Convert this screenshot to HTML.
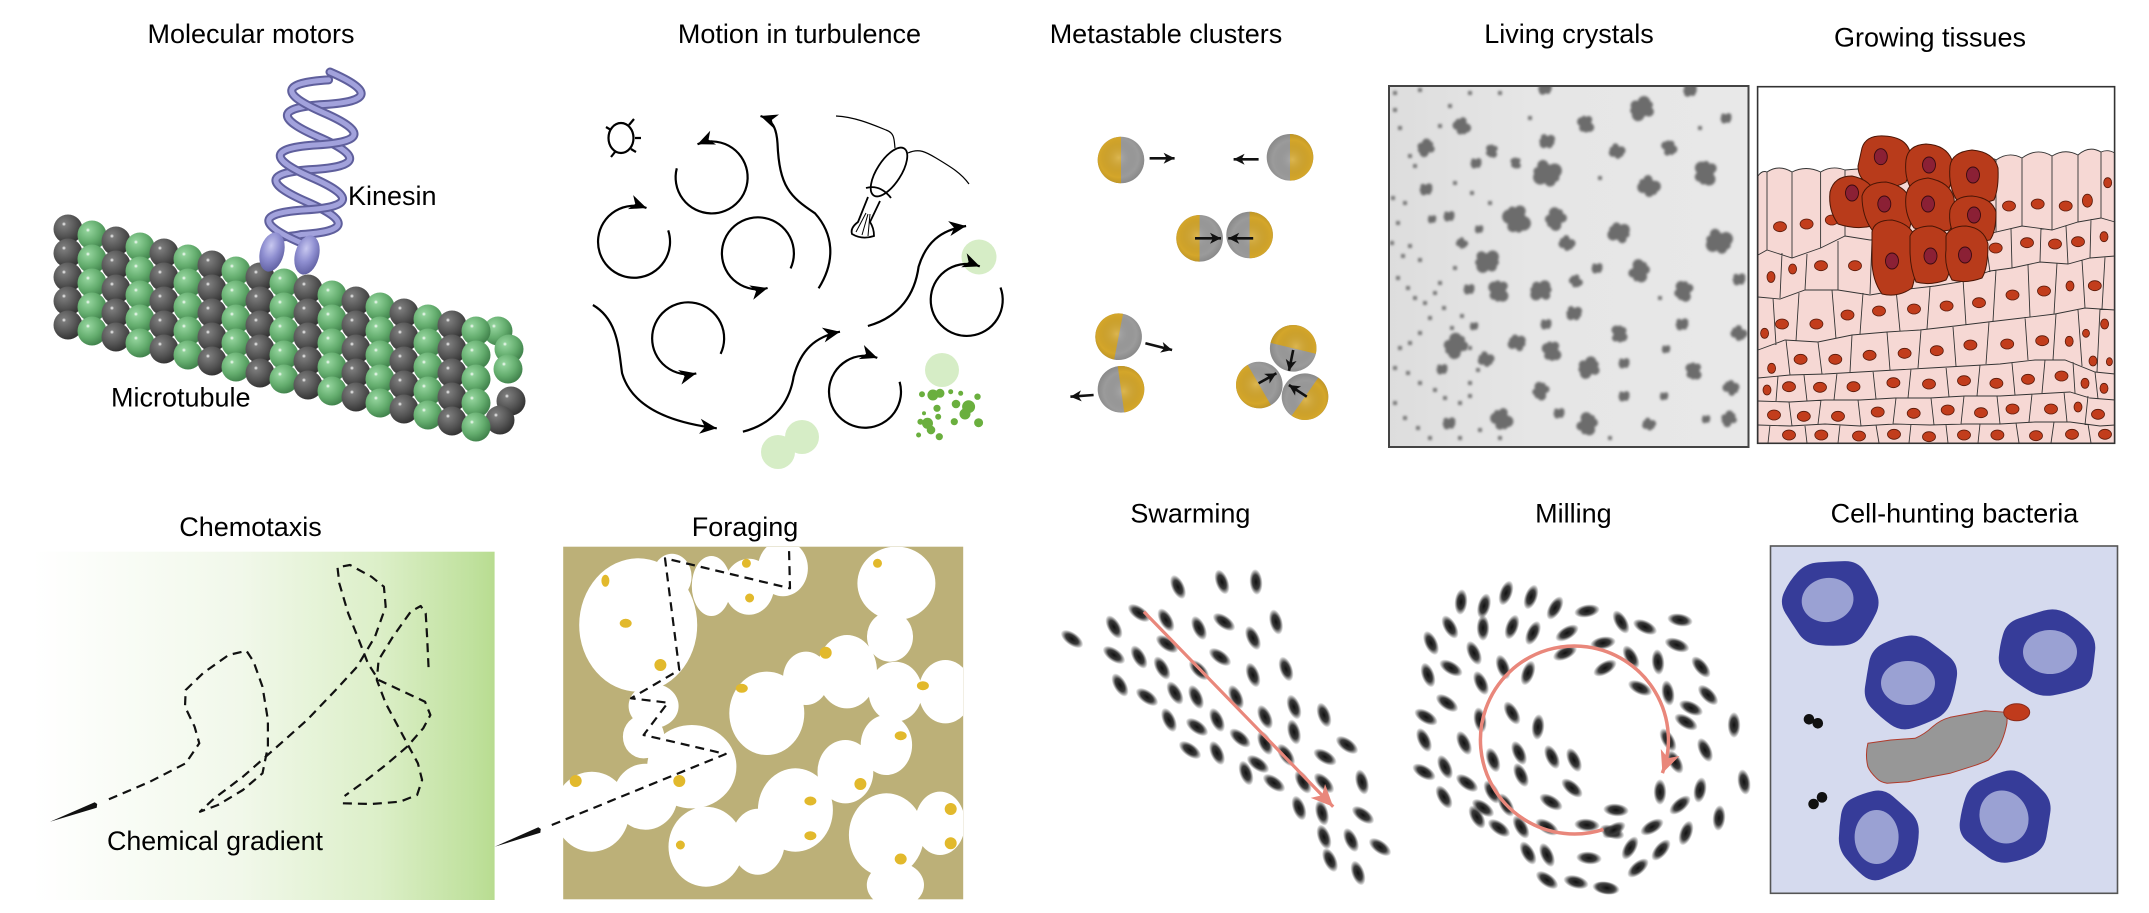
<!DOCTYPE html>
<html><head><meta charset="utf-8">
<style>
html,body{margin:0;padding:0;background:#fff;width:2149px;height:913px;overflow:hidden}
svg{display:block}
text{font-family:"Liberation Sans",Arial,sans-serif;font-size:27px;fill:#000}
</style></head>
<body>
<svg width="2149" height="913" viewBox="0 0 2149 913" xmlns="http://www.w3.org/2000/svg">
<defs>
<marker id="ah" markerWidth="20" markerHeight="20" viewBox="-18 -10 20 20" refX="0" refY="0" orient="auto" markerUnits="userSpaceOnUse"><path d="M0,0 L-17,-7.5 L-12,0 L-17,7.5 Z" fill="#000"/></marker>
<marker id="ahs" markerWidth="14" markerHeight="14" viewBox="-12 -7 14 14" refX="0" refY="0" orient="auto" markerUnits="userSpaceOnUse"><path d="M0,0 L-11,-5.5 L-8,0 L-11,5.5 Z" fill="#111"/></marker>
<marker id="ahp" markerWidth="26" markerHeight="24" viewBox="-24 -12 26 24" refX="0" refY="0" orient="auto" markerUnits="userSpaceOnUse"><path d="M0,0 L-22,-10 L-16,0 L-22,10 Z" fill="#e9877b"/></marker>
<radialGradient id="sg" cx="0.36" cy="0.33" r="0.75"><stop offset="0" stop-color="#fff"/><stop offset="0.1" stop-color="#7a7a7a"/><stop offset="0.55" stop-color="#555"/><stop offset="1" stop-color="#2c2c2c"/></radialGradient>
<radialGradient id="sgn" cx="0.36" cy="0.33" r="0.75"><stop offset="0" stop-color="#fff"/><stop offset="0.1" stop-color="#8fd098"/><stop offset="0.55" stop-color="#64ad6e"/><stop offset="1" stop-color="#3a7a45"/></radialGradient>
<radialGradient id="kf" cx="0.4" cy="0.35" r="0.7"><stop offset="0" stop-color="#c8c8f0"/><stop offset="0.5" stop-color="#8e8ed0"/><stop offset="1" stop-color="#5e5ea0"/></radialGradient>
<radialGradient id="jo" cx="0.45" cy="0.45" r="0.6"><stop offset="0" stop-color="#fff" stop-opacity="0.18"/><stop offset="0.7" stop-color="#000" stop-opacity="0"/><stop offset="1" stop-color="#000" stop-opacity="0.14"/></radialGradient>
<radialGradient id="eg"><stop offset="0" stop-color="#111"/><stop offset="0.55" stop-color="#3a3a3a"/><stop offset="1" stop-color="#3a3a3a" stop-opacity="0"/></radialGradient>
<linearGradient id="chem" x1="0" y1="0" x2="1" y2="0"><stop offset="0" stop-color="#fff"/><stop offset="0.45" stop-color="#f1f8ea"/><stop offset="0.75" stop-color="#dcefc8"/><stop offset="0.95" stop-color="#c0e19e"/><stop offset="1" stop-color="#b8dc90"/></linearGradient>
<linearGradient id="crys" x1="0" y1="0" x2="1" y2="0"><stop offset="0" stop-color="#dddddd"/><stop offset="0.4" stop-color="#e6e6e6"/><stop offset="1" stop-color="#e8e8e8"/></linearGradient>
<filter id="bl" x="-10%" y="-10%" width="120%" height="120%"><feGaussianBlur stdDeviation="1.4"/></filter>
<clipPath id="fclip"><rect x="563" y="547" width="400" height="353"/></clipPath>
<clipPath id="cclip"><rect x="1389" y="86" width="360" height="361"/></clipPath>
<circle id="sG" r="14.5" fill="url(#sg)"/>
<circle id="sN" r="14.5" fill="url(#sgn)"/>
<g id="colG"><use href="#sG" y="0"/><use href="#sG" y="24"/><use href="#sG" y="48"/><use href="#sG" y="72"/><use href="#sG" y="96"/></g>
<g id="colN"><use href="#sN" y="0"/><use href="#sN" y="24"/><use href="#sN" y="48"/><use href="#sN" y="72"/><use href="#sN" y="96"/></g>
<ellipse id="e" rx="6.5" ry="13" fill="url(#eg)"/>
<g id="cl"><circle r="5.5"/><circle cx="4" cy="-3" r="4.5"/><circle cx="-3" cy="4" r="4.5"/><circle cx="3.5" cy="4" r="3.5"/><circle cx="-4" cy="-3.5" r="3.5"/><circle cx="6" cy="1" r="2.5"/><circle cx="-6" cy="1" r="2.5"/></g>
<path id="blob" d="M45.35,-11.75 Q50,0 44.9,11.5 Q39.8,23 32.9,34 Q26,45 13,46 Q0,47 -12.75,45.6 Q-25.5,44.2 -32.25,33.35 Q-39,22.5 -45.5,11.25 Q-52,0 -46.8,-12 Q-41.6,-24 -33.3,-33.65 Q-25,-43.3 -12.5,-44.15 Q0,-45 13.25,-45.45 Q26.5,-45.9 33.6,-34.7 Q40.7,-23.5 45.35,-11.75 Z"/>
<g id="jan"><circle r="23.3" fill="#9b9b9b"/><path d="M0,-23.3 A23.3,23.3 0 0 0 0,23.3 Z" fill="#d4a62a"/><circle r="23.3" fill="url(#jo)"/></g>
</defs>

<text x="251" y="43" text-anchor="middle">Molecular motors</text>
<text x="799.5" y="43" text-anchor="middle">Motion in turbulence</text>
<text x="1166" y="43" text-anchor="middle">Metastable clusters</text>
<text x="1569" y="43" text-anchor="middle">Living crystals</text>
<text x="1930" y="46.5" text-anchor="middle">Growing tissues</text>
<text x="250.5" y="536" text-anchor="middle">Chemotaxis</text>
<text x="745" y="536" text-anchor="middle">Foraging</text>
<text x="1190.4" y="522.7" text-anchor="middle">Swarming</text>
<text x="1573.4" y="522.7" text-anchor="middle">Milling</text>
<text x="1954.5" y="522.7" text-anchor="middle">Cell-hunting bacteria</text>

<g>
<use href="#colG" x="68" y="229"/><use href="#colN" x="92" y="235"/><use href="#colG" x="116" y="241"/><use href="#colN" x="140" y="247"/>
<use href="#colG" x="164" y="253"/><use href="#colN" x="188" y="259"/><use href="#colG" x="212" y="265"/><use href="#colN" x="236" y="271"/>
<use href="#colG" x="260" y="277"/><use href="#colN" x="284" y="283"/><use href="#colG" x="308" y="289"/><use href="#colN" x="332" y="295"/>
<use href="#colG" x="356" y="301"/><use href="#colN" x="380" y="307"/><use href="#colG" x="404" y="313"/><use href="#colN" x="428" y="319"/>
<use href="#colG" x="452" y="325"/>
<use href="#sN" x="498" y="331"/><use href="#sN" x="509" y="349"/><use href="#sN" x="508" y="369"/><use href="#sG" x="511" y="401"/><use href="#sG" x="500" y="420"/>
<use href="#colN" x="476" y="331"/>
</g>
<g transform="translate(330,72) rotate(10)" fill="none" stroke-linecap="round">
<path id="hA" d="M0,0 C46,11 46,22 0,33 C-46,44 -46,55 0,66 C46,77 46,88 0,99 C-46,110 -46,121 0,132 C46,143 46,154 0,165 C-10,170 -25,170 -30,178" stroke="#5f5f9c" stroke-width="9"/>
<path d="M0,0 C46,11 46,22 0,33 C-46,44 -46,55 0,66 C46,77 46,88 0,99 C-46,110 -46,121 0,132 C46,143 46,154 0,165 C-10,170 -25,170 -30,178" stroke="#a2a2dc" stroke-width="5"/>
<g transform="translate(0,8)">
<path d="M0,0 C-46,11 -46,22 0,33 C46,44 46,55 0,66 C-46,77 -46,88 0,99 C46,110 46,121 0,132 C-46,143 -46,154 0,165 C8,170 10,173 8,178" stroke="#5f5f9c" stroke-width="9"/>
<path d="M0,0 C-46,11 -46,22 0,33 C46,44 46,55 0,66 C-46,77 -46,88 0,99 C46,110 46,121 0,132 C-46,143 -46,154 0,165 C8,170 10,173 8,178" stroke="#a2a2dc" stroke-width="5"/>
</g>
</g>
<ellipse cx="272" cy="252" rx="12" ry="20" transform="rotate(15 272 252)" fill="url(#kf)"/>
<ellipse cx="307" cy="255" rx="12" ry="20" transform="rotate(15 307 255)" fill="url(#kf)"/>
<text x="348" y="205">Kinesin</text>
<text x="111" y="406.5">Microtubule</text>

<g fill="none" stroke="#000" stroke-width="2.2">
<ellipse cx="621" cy="138" rx="12.5" ry="15"/>
<path d="M606,127 L611,130 M634,119 L629,125 M641,138 L635,138 M636,152 L631,149 M611,157 L615,152"/>
</g>
<g fill="#d6edc6"><circle cx="979" cy="257" r="17.5"/><circle cx="942" cy="370" r="17"/><circle cx="802" cy="437" r="17"/><circle cx="778" cy="452" r="17"/></g>
<g fill="none" stroke="#000" stroke-width="2.2" marker-end="url(#ah)">
<path d="M676.8,168.3 A36,36 0 1 0 697.5,144.3"/>
<path d="M668.2,230.4 A36,36 0 1 1 646.5,208"/>
<path d="M790.6,268.4 A36,36 0 1 0 767.6,288"/>
<path d="M720.6,353.9 A36,36 0 1 0 696.3,373.4"/>
<path d="M899.6,381.8 A36,36 0 1 1 877.3,357.9"/>
<path d="M1000.5,287.5 A36,36 0 1 1 979.8,266.4"/>
<path d="M818.6,288.3 C836.4,260 832.9,233.3 815,213.3 C790,196.7 779.3,186.7 777.5,143.3 C776.4,126.7 772.1,120 760.5,116"/>
<path d="M592.9,305 C618.6,320 618.6,350 622.1,373.3 C632.9,410 675.7,423.3 716.8,428.3"/>
<path d="M742.9,431.7 C775.7,423.3 790,400 793.6,376.7 C800.7,350 815,336.7 840,331.7"/>
<path d="M867.9,326 C900.7,316.7 915,293.3 918.6,266.7 C925.7,243.3 940,230 966.1,226"/>
</g>
<g fill="none" stroke="#000" stroke-width="1.8">
<ellipse cx="889" cy="172" rx="28" ry="12" transform="rotate(-57 889 172)" fill="#fff"/>
<path d="M866,188 Q880,184 891,198"/>
<path d="M868,197 L858,222 Q850,228 852,234 Q862,240 874,236 Q874,228 870,222 L880,201" fill="#fff"/>
<path d="M866,213 L856,232 M868,214 L862,235 M870,214 L868,236" stroke-width="1"/>
<path d="M895,148 C894,140 895,133 886,130 C869,123 854,117 836,116" stroke-width="1.2"/>
<path d="M908,153 C919,148 926,152 936,158 C951,167 961,173 969,184" stroke-width="1.2"/>
</g>
<path fill="#6aaf3e" d="M938.4,395a5.5,5.5 0 1,0 -11,0a5.5,5.5 0 1,0 11,0M944.5,393.3a4.5,4.5 0 1,0 -9,0a4.5,4.5 0 1,0 9,0M960.3,404a4.3,4.3 0 1,0 -8.6,0a4.3,4.3 0 1,0 8.6,0M975.1,406.7a6.5,6.5 0 1,0 -13,0a6.5,6.5 0 1,0 13,0M970.5,414a5.5,5.5 0 1,0 -11,0a5.5,5.5 0 1,0 11,0M983.1,422.7a4.5,4.5 0 1,0 -9,0a4.5,4.5 0 1,0 9,0M980.7,396.7a3.2,3.2 0 1,0 -6.4,0a3.2,3.2 0 1,0 6.4,0M933,423.3a5.5,5.5 0 1,0 -11,0a5.5,5.5 0 1,0 11,0M935.3,430a4.3,4.3 0 1,0 -8.6,0a4.3,4.3 0 1,0 8.6,0M942.9,436.7a3.6,3.6 0 1,0 -7.2,0a3.6,3.6 0 1,0 7.2,0M940.6,408.3a3.6,3.6 0 1,0 -7.2,0a3.6,3.6 0 1,0 7.2,0M925,394.3a3,3 0 1,0 -6,0a3,3 0 1,0 6,0M923.4,421.7a3,3 0 1,0 -6,0a3,3 0 1,0 6,0M921.1,435a2.5,2.5 0 1,0 -5,0a2.5,2.5 0 1,0 5,0M957.9,421.7a3.6,3.6 0 1,0 -7.2,0a3.6,3.6 0 1,0 7.2,0M953.2,391.7a2.5,2.5 0 1,0 -5,0a2.5,2.5 0 1,0 5,0M963.2,393.3a2.5,2.5 0 1,0 -5,0a2.5,2.5 0 1,0 5,0M941.2,416.7a3,3 0 1,0 -6,0a3,3 0 1,0 6,0M926,413.3a2,2 0 1,0 -4,0a2,2 0 1,0 4,0"/>

<use href="#jan" transform="translate(1121,160)"/><use href="#jan" transform="translate(1290,157.3) rotate(180)"/>
<use href="#jan" transform="translate(1199.6,238.3)"/><use href="#jan" transform="translate(1249.6,235) rotate(180)"/>
<use href="#jan" transform="translate(1118.6,336.7) rotate(11)"/><use href="#jan" transform="translate(1121,389.3) rotate(172)"/>
<use href="#jan" transform="translate(1293.2,348.3) rotate(103.5)"/><use href="#jan" transform="translate(1259.3,385) rotate(-30)"/><use href="#jan" transform="translate(1305,396.7) rotate(215)"/>
<g stroke="#111" stroke-width="2.6" fill="none" marker-end="url(#ahs)">
<path d="M1149.6,158.3 L1174.6,158.3"/><path d="M1258.6,159.3 L1233.6,159.3"/><path d="M1195,238.3 L1221,238.3"/>
<path d="M1253.2,238.3 L1228.2,238.3"/><path d="M1145.4,343.3 L1172.1,350"/><path d="M1093.6,395 L1070.4,396.7"/>
<path d="M1293.2,350 L1289,370.7"/><path d="M1258.6,383.3 L1276.4,373.3"/><path d="M1306.8,396.7 L1288.9,385"/>
</g>

<rect x="1389" y="86" width="359.5" height="361" fill="url(#crys)"/>
<g clip-path="url(#cclip)">
<g filter="url(#bl)" fill="#6c6c6c">
<use href="#cl" transform="translate(1547 173) scale(1.6) rotate(20)"/><use href="#cl" transform="translate(1517 219) scale(1.6) rotate(70)"/><use href="#cl" transform="translate(1556 219) scale(1.25) rotate(130)"/><use href="#cl" transform="translate(1619 233) scale(1.25) rotate(200)"/>
<use href="#cl" transform="translate(1649 186) scale(1.25) rotate(40)"/><use href="#cl" transform="translate(1706 173) scale(1.4) rotate(100)"/><use href="#cl" transform="translate(1642 109) scale(1.4) rotate(160)"/><use href="#cl" transform="translate(1586 124) scale(1) rotate(80)"/>
<use href="#cl" transform="translate(1547 141) scale(0.9) rotate(10)"/><use href="#cl" transform="translate(1462 126) scale(1) rotate(60)"/><use href="#cl" transform="translate(1426 148) scale(1) rotate(150)"/><use href="#cl" transform="translate(1492 151) scale(0.75) rotate(100)"/>
<use href="#cl" transform="translate(1617 151) scale(0.9) rotate(30)"/><use href="#cl" transform="translate(1669 148) scale(0.9) rotate(250)"/><use href="#cl" transform="translate(1726 118) scale(0.65)"/><use href="#cl" transform="translate(1426 189) scale(0.75)"/>
<use href="#cl" transform="translate(1487 261) scale(1.4)"/><use href="#cl" transform="translate(1499 291) scale(1.25) rotate(90)"/><use href="#cl" transform="translate(1541 291) scale(1.25) rotate(180)"/><use href="#cl" transform="translate(1567 243) scale(0.9) rotate(40)"/>
<use href="#cl" transform="translate(1639 271) scale(1.25) rotate(300)"/><use href="#cl" transform="translate(1719 241) scale(1.5) rotate(20)"/><use href="#cl" transform="translate(1684 291) scale(1.15) rotate(110)"/><use href="#cl" transform="translate(1739 279) scale(0.75)"/>
<use href="#cl" transform="translate(1576 281) scale(0.75) rotate(60)"/><use href="#cl" transform="translate(1597 268) scale(0.65)"/><use href="#cl" transform="translate(1456 346) scale(1.4) rotate(140)"/><use href="#cl" transform="translate(1486 359) scale(0.9) rotate(30)"/>
<use href="#cl" transform="translate(1517 343) scale(1) rotate(200)"/><use href="#cl" transform="translate(1552 351) scale(1.15) rotate(80)"/><use href="#cl" transform="translate(1574 313) scale(0.9) rotate(10)"/><use href="#cl" transform="translate(1619 334) scale(1) rotate(270)"/>
<use href="#cl" transform="translate(1682 324) scale(0.75)"/><use href="#cl" transform="translate(1739 333) scale(0.9) rotate(45)"/><use href="#cl" transform="translate(1589 368) scale(1.25) rotate(160)"/><use href="#cl" transform="translate(1694 371) scale(1) rotate(90)"/>
<use href="#cl" transform="translate(1731 388) scale(0.9) rotate(220)"/><use href="#cl" transform="translate(1624 363) scale(0.65)"/><use href="#cl" transform="translate(1541 391) scale(1) rotate(120)"/><use href="#cl" transform="translate(1502 419) scale(1.25) rotate(60)"/>
<use href="#cl" transform="translate(1449 423) scale(0.75)"/><use href="#cl" transform="translate(1587 424) scale(1.25) rotate(300)"/><use href="#cl" transform="translate(1649 424) scale(0.75) rotate(30)"/><use href="#cl" transform="translate(1729 419) scale(0.9) rotate(150)"/>
<use href="#cl" transform="translate(1476 163) scale(0.65)"/><use href="#cl" transform="translate(1516 163) scale(0.65) rotate(90)"/><use href="#cl" transform="translate(1449 216) scale(0.65)"/><use href="#cl" transform="translate(1432 219) scale(0.5)"/>
<use href="#cl" transform="translate(1479 229) scale(0.5)"/><use href="#cl" transform="translate(1462 243) scale(0.65) rotate(45)"/><use href="#cl" transform="translate(1546 324) scale(0.65)"/><use href="#cl" transform="translate(1474 326) scale(0.5)"/>
<use href="#cl" transform="translate(1442 369) scale(0.65)"/><use href="#cl" transform="translate(1559 413) scale(0.65)"/><use href="#cl" transform="translate(1624 396) scale(0.65)"/><use href="#cl" transform="translate(1666 349) scale(0.5)"/>
<use href="#cl" transform="translate(1664 396) scale(0.5)"/><use href="#cl" transform="translate(1706 419) scale(0.5)"/><use href="#cl" transform="translate(1469 289) scale(0.65)"/><use href="#cl" transform="translate(1545 88) scale(0.8)"/><use href="#cl" transform="translate(1690 90) scale(0.8)"/>
</g>
<path filter="url(#bl)" fill="#777" d="M1397,112h-4v-4h4zM1402,130h-4v-4h4zM1412,158h-4v-4h4zM1417,168h-4v-4h4zM1395,200h-4v-4h4zM1407,205h-4v-4h4zM1400,225h-4v-4h4zM1394,245h-4v-4h4zM1405,258h-4v-4h4zM1412,248h-4v-4h4zM1422,262h-4v-4h4zM1400,280h-4v-4h4zM1410,290h-4v-4h4zM1417,300h-4v-4h4zM1427,305h-4v-4h4zM1437,295h-4v-4h4zM1442,285h-4v-4h4zM1432,320h-4v-4h4zM1422,335h-4v-4h4zM1412,345h-4v-4h4zM1402,350h-4v-4h4zM1397,370h-4v-4h4zM1410,375h-4v-4h4zM1422,385h-4v-4h4zM1437,392h-4v-4h4zM1447,400h-4v-4h4zM1462,405h-4v-4h4zM1472,398h-4v-4h4zM1397,405h-4v-4h4zM1407,420h-4v-4h4zM1420,430h-4v-4h4zM1432,440h-4v-4h4zM1462,440h-4v-4h4zM1482,432h-4v-4h4zM1502,440h-4v-4h4zM1442,128h-4v-4h4zM1452,108h-4v-4h4zM1472,95h-4v-4h4zM1502,95h-4v-4h4zM1397,95h-4v-4h4zM1422,92h-4v-4h4zM1457,185h-4v-4h4zM1474,195h-4v-4h4zM1492,205h-4v-4h4zM1457,270h-4v-4h4zM1446,310h-4v-4h4zM1454,330h-4v-4h4zM1464,318h-4v-4h4zM1472,350h-4v-4h4zM1480,372h-4v-4h4zM1472,385h-4v-4h4zM1532,120h-4v-4h4zM1602,180h-4v-4h4zM1702,130h-4v-4h4zM1662,300h-4v-4h4zM1612,440h-4v-4h4z"/>
</g>
<rect x="1389" y="86" width="359.5" height="361" fill="none" stroke="#444" stroke-width="2"/>

<rect x="1757.6" y="86.7" width="357" height="356.6" fill="#fff"/>
<path d="M1758,176 Q1762,170 1767,172 Q1779,164 1792,172 Q1806,165 1820.6,172 Q1832,165 1845,170 L1870,168 L1990,162 Q1993,157 1996,160 Q2009,151 2022,158 Q2037,147 2052,156 Q2065,148 2078,155 Q2089,145 2101,152 Q2108,149 2114.7,153 L2114.7,443 L1758,443 Z" fill="#f6d8d4" stroke="#333" stroke-width="0.9"/>
<path fill="none" stroke="#333" stroke-width="0.9" d="M1767,172 L1767,250 M1792,172 L1792,258 M1820.6,172 L1820.6,248 M1845,170 L1845,236 M1996,160 L1996,232 M2022,158 L2022,226 M2052,156 L2052,230 M2078,155 L2078,222 M2101,152 L2101,218
M1758,255 L1767,250 L1792,258 L1820.6,248 L1845,236 L1870,240 L1985,236 L1996,232 L2022,226 L2052,230 L2078,222 L2101,218 L2115,222
M1782,253 L1780,298 M1807,254 L1805,290 M1838,241 L1838,290 M1872,240 L1870,294 M1985,236 L1990,272 M2011,229 L2012,268 M2041,228 L2040,262 M2066,226 L2068,264 M2091,219 L2090,258
M1758,297 L1780,299 L1805,290 L1838,290 L1870,295 L1900,290 L1935,286 L1960,282 L1990,271 L2012,268 L2040,262 L2068,264 L2090,258 L2115,256
M1773,298 L1776,345 M1799,293 L1796,341 M1832,290 L1836,339 M1863,293 L1860,334 M1896,289 L1900,331 M1930,287 L1927,329 M1963,279 L1966,325 M1996,270 L1993,321 M2028,265 L2030,317 M2057,263 L2054,314 M2082,260 L2085,308 M2105,257 L2102,309
M1758,350 L1785,340 L1818,342 L1852,335 L1887,332 L1920,330 L1955,326 L1988,322 L2022,318 L2055,314 L2085,308 L2115,310
M1786,340 L1790,375 M1818,342 L1822,374 M1852,335 L1850,372 M1887,332 L1890,370 M1921,330 L1918,368 M1953,327 L1956,366 M1989,322 L1986,364 M2025,317 L2028,360 M2056,314 L2053,360 M2078,310 L2082,366 M2100,309 L2097,372
M1758,378 L1790,375 L1825,374 L1860,372 L1895,370 L1930,368 L1965,366 L2000,364 L2035,360 L2065,360 L2095,372 L2115,374
M1778,376 L1776,401 M1804,375 L1807,401 M1837,373 L1834,400 M1873,371 L1876,399 M1911,369 L1908,398 M1946,367 L1949,397 M1980,365 L1977,396 M2012,363 L2015,395 M2045,360 L2042,393 M2073,362 L2075,393 M2095,372 L2098,399
M1758,401 L1790,402 L1825,400 L1860,400 L1895,398 L1930,398 L1965,396 L2000,396 L2035,394 L2070,392 L2090,398 L2115,400
M1789,402 L1792,426 M1821,400 L1818,424 M1858,400 L1861,426 M1896,398 L1893,424 M1931,398 L1934,425 M1964,396 L1961,424 M1997,396 L2000,424 M2032,394 L2029,422 M2064,392 L2067,422 M2088,396 L2085,425
M1758,425 L1790,426 L1825,424 L1860,426 L1895,424 L1930,425 L1965,424 L2000,424 L2035,422 L2070,422 L2100,426 L2115,425
M1770,425 L1768,443 M1805,426 L1807,443 M1840,425 L1838,443 M1876,425 L1879,443 M1911,424 L1909,443 M1946,425 L1948,443 M1980,424 L1978,443 M2016,423 L2019,443 M2054,422 L2051,443 M2088,424 L2091,443"/>
<path fill="#c23d1c" stroke="#5a1a0a" stroke-width="0.8" d="M1786.5,226.7a6.5,5 0 1,0 -13,0a6.5,5 0 1,0 13,0M1813.1,224a6.5,5 0 1,0 -13,0a6.5,5 0 1,0 13,0M1838.3,220a6.5,5 0 1,0 -13,0a6.5,5 0 1,0 13,0M2015.5,206a6.5,5 0 1,0 -13,0a6.5,5 0 1,0 13,0M2044.2,204a6.5,5 0 1,0 -13,0a6.5,5 0 1,0 13,0M2072.2,206a6.5,5 0 1,0 -13,0a6.5,5 0 1,0 13,0M2092.4,200.7a5,6.5 0 1,0 -10,0a5,6.5 0 1,0 10,0M2111.7,182.7a4,5 0 1,0 -8,0a4,5 0 1,0 8,0
M1775,277a4,5.5 0 1,0 -8,0a4,5.5 0 1,0 8,0M1796.6,269a4,5 0 1,0 -8,0a4,5 0 1,0 8,0M1827.5,265.7a6.5,5 0 1,0 -13,0a6.5,5 0 1,0 13,0M1861.5,265.7a6.5,5 0 1,0 -13,0a6.5,5 0 1,0 13,0M2002.2,248a6.5,5 0 1,0 -13,0a6.5,5 0 1,0 13,0M2033.5,242.7a6.5,5 0 1,0 -13,0a6.5,5 0 1,0 13,0M2061.5,244a6.5,5 0 1,0 -13,0a6.5,5 0 1,0 13,0M2084.5,241.7a6.5,5 0 1,0 -13,0a6.5,5 0 1,0 13,0M2108,236.7a4,5 0 1,0 -8,0a4,5 0 1,0 8,0
M1768.6,333.3a4,5 0 1,0 -8,0a4,5 0 1,0 8,0M1788.5,324a6.5,5 0 1,0 -13,0a6.5,5 0 1,0 13,0M1822.9,324a6.5,5 0 1,0 -13,0a6.5,5 0 1,0 13,0M1854,315a6.5,5 0 1,0 -13,0a6.5,5 0 1,0 13,0M1885.5,311a6.5,5 0 1,0 -13,0a6.5,5 0 1,0 13,0M1920.5,309a6.5,5 0 1,0 -13,0a6.5,5 0 1,0 13,0M1953.1,306a6.5,5 0 1,0 -13,0a6.5,5 0 1,0 13,0M1985.5,302.7a6.5,5 0 1,0 -13,0a6.5,5 0 1,0 13,0M2019,295a6.5,5 0 1,0 -13,0a6.5,5 0 1,0 13,0M2050.5,291a6.5,5 0 1,0 -13,0a6.5,5 0 1,0 13,0M2074,286a4,5 0 1,0 -8,0a4,5 0 1,0 8,0M2101.3,285.7a6.5,5 0 1,0 -13,0a6.5,5 0 1,0 13,0M2108.6,324a4,5 0 1,0 -8,0a4,5 0 1,0 8,0
M1775.6,368.3a4,5 0 1,0 -8,0a4,5 0 1,0 8,0M1807.1,359.3a6.5,5 0 1,0 -13,0a6.5,5 0 1,0 13,0M1841.8,359.3a6.5,5 0 1,0 -13,0a6.5,5 0 1,0 13,0M1876.1,355.3a6.5,5 0 1,0 -13,0a6.5,5 0 1,0 13,0M1911.1,353.3a6.5,5 0 1,0 -13,0a6.5,5 0 1,0 13,0M1943.3,350.7a6.5,5 0 1,0 -13,0a6.5,5 0 1,0 13,0M1976.9,345a6.5,5 0 1,0 -13,0a6.5,5 0 1,0 13,0M2013.7,344a6.5,5 0 1,0 -13,0a6.5,5 0 1,0 13,0M2048.7,340.7a6.5,5 0 1,0 -13,0a6.5,5 0 1,0 13,0M2073.2,341.3a4,5 0 1,0 -8,0a4,5 0 1,0 8,0M2089.5,333.3a3.5,4 0 1,0 -7,0a3.5,4 0 1,0 7,0M2097,361a4,5 0 1,0 -8,0a4,5 0 1,0 8,0M2112.4,361.7a3,4 0 1,0 -6,0a3,4 0 1,0 6,0
M1771,390a4,5 0 1,0 -8,0a4,5 0 1,0 8,0M1795.5,386.7a6.5,5 0 1,0 -13,0a6.5,5 0 1,0 13,0M1826.5,387.3a6.5,5 0 1,0 -13,0a6.5,5 0 1,0 13,0M1860,386.7a6.5,5 0 1,0 -13,0a6.5,5 0 1,0 13,0M1899.9,382.7a6.5,5 0 1,0 -13,0a6.5,5 0 1,0 13,0M1935.5,384a6.5,5 0 1,0 -13,0a6.5,5 0 1,0 13,0M1970.5,380.7a6.5,5 0 1,0 -13,0a6.5,5 0 1,0 13,0M2002.9,383.3a6.5,5 0 1,0 -13,0a6.5,5 0 1,0 13,0M2034.5,379.3a6.5,5 0 1,0 -13,0a6.5,5 0 1,0 13,0M2068,376a6.5,5 0 1,0 -13,0a6.5,5 0 1,0 13,0M2089,383.3a4,5 0 1,0 -8,0a4,5 0 1,0 8,0M2108,388.3a4,5 0 1,0 -8,0a4,5 0 1,0 8,0
M1780.5,415a6.5,5 0 1,0 -13,0a6.5,5 0 1,0 13,0M1810.3,416.3a6.5,5 0 1,0 -13,0a6.5,5 0 1,0 13,0M1844.5,416.3a6.5,5 0 1,0 -13,0a6.5,5 0 1,0 13,0M1884.2,412a6.5,5 0 1,0 -13,0a6.5,5 0 1,0 13,0M1920.2,413.3a6.5,5 0 1,0 -13,0a6.5,5 0 1,0 13,0M1954.2,410a6.5,5 0 1,0 -13,0a6.5,5 0 1,0 13,0M1987.5,412.7a6.5,5 0 1,0 -13,0a6.5,5 0 1,0 13,0M2019,409a6.5,5 0 1,0 -13,0a6.5,5 0 1,0 13,0M2057.5,409a6.5,5 0 1,0 -13,0a6.5,5 0 1,0 13,0M2082,407a4,5 0 1,0 -8,0a4,5 0 1,0 8,0M2104.5,414.3a6.5,5 0 1,0 -13,0a6.5,5 0 1,0 13,0
M1795.5,435a6.5,5 0 1,0 -13,0a6.5,5 0 1,0 13,0M1827.8,435a6.5,5 0 1,0 -13,0a6.5,5 0 1,0 13,0M1865.5,436a6.5,5 0 1,0 -13,0a6.5,5 0 1,0 13,0M1900.5,434.3a6.5,5 0 1,0 -13,0a6.5,5 0 1,0 13,0M1935.5,436.7a6.5,5 0 1,0 -13,0a6.5,5 0 1,0 13,0M1970.5,435a6.5,5 0 1,0 -13,0a6.5,5 0 1,0 13,0M2003.9,435a6.5,5 0 1,0 -13,0a6.5,5 0 1,0 13,0M2042.5,435.7a6.5,5 0 1,0 -13,0a6.5,5 0 1,0 13,0M2078.5,434.3a6.5,5 0 1,0 -13,0a6.5,5 0 1,0 13,0M2111.5,434.3a6.5,5 0 1,0 -13,0a6.5,5 0 1,0 13,0"/>
<g fill="#b83b1b" stroke="#4a1505" stroke-width="1">
<path d="M1862,148 Q1866,135 1884,136 Q1906,137 1910,152 Q1912,170 1906,182 Q1892,190 1872,186 Q1858,180 1858,166 Z"/>
<path d="M1906,160 Q1908,145 1926,144 Q1946,145 1952,160 Q1954,180 1948,190 Q1930,195 1912,190 Q1904,178 1906,160 Z"/>
<path d="M1950,166 Q1952,152 1972,150 Q1994,152 1998,168 Q1999,188 1994,200 Q1978,206 1958,202 Q1948,188 1950,166 Z"/>
<path d="M1830,192 Q1834,176 1852,176 Q1872,180 1876,196 Q1878,214 1872,226 Q1856,230 1838,224 Q1828,210 1830,192 Z"/>
<path d="M1862,196 Q1866,182 1886,182 Q1906,186 1910,200 Q1914,220 1908,232 Q1890,236 1872,230 Q1862,216 1862,196 Z"/>
<path d="M1906,196 Q1908,180 1928,178 Q1950,182 1954,198 Q1956,218 1950,230 Q1932,234 1914,228 Q1904,214 1906,196 Z"/>
<path d="M1950,210 Q1954,196 1972,196 Q1992,198 1996,212 Q1996,232 1990,240 Q1972,244 1956,238 Q1948,226 1950,210 Z"/>
<path d="M1872,232 Q1874,220 1892,220 Q1912,224 1916,240 Q1918,270 1912,288 Q1898,298 1882,294 Q1872,280 1872,260 Z"/>
<path d="M1910,236 Q1914,226 1932,226 Q1950,230 1952,246 Q1952,270 1946,280 Q1930,286 1916,282 Q1910,268 1910,250 Z"/>
<path d="M1946,236 Q1950,226 1966,226 Q1984,228 1988,244 Q1988,268 1982,278 Q1966,284 1952,280 Q1944,266 1946,250 Z"/>
</g>
<path fill="#8b2035" stroke="#3a0a10" stroke-width="0.9" d="M1887.3,156.7a6.5,8 0 1,0 -13,0a6.5,8 0 1,0 13,0M1935.5,165a6.5,8 0 1,0 -13,0a6.5,8 0 1,0 13,0M1979.5,175a6.5,8 0 1,0 -13,0a6.5,8 0 1,0 13,0M1858.5,193a6.5,8 0 1,0 -13,0a6.5,8 0 1,0 13,0M1890.8,204a6.5,8 0 1,0 -13,0a6.5,8 0 1,0 13,0M1934.5,204a6.5,8 0 1,0 -13,0a6.5,8 0 1,0 13,0M1980.5,215a6.5,8 0 1,0 -13,0a6.5,8 0 1,0 13,0M1898.5,261a6.5,8 0 1,0 -13,0a6.5,8 0 1,0 13,0M1937,256a6.5,8 0 1,0 -13,0a6.5,8 0 1,0 13,0M1971.5,255a6.5,8 0 1,0 -13,0a6.5,8 0 1,0 13,0"/>
<rect x="1757.6" y="86.7" width="357" height="356.6" fill="none" stroke="#333" stroke-width="1.6"/>

<rect x="32.9" y="551.7" width="461.7" height="348.3" fill="url(#chem)"/>
<polygon points="50,821.7 94.7,802.2 97.2,804 96.7,807.8" fill="#111"/>
<g fill="none" stroke="#111" stroke-width="2.2" stroke-dasharray="9 6" stroke-linejoin="round">
<polyline points="108.9,799.3 150,781.7 185.7,763.3 199.3,743.3 194.6,726.7 185,706.7 185.7,690 203.6,672.7 228.6,655 246.4,650.7 253.6,661.7 262.5,686.7 267.9,720 267.9,746.7 262.5,773.3 242.9,790 217.9,805 200,811.7 214.3,798.3 242.9,776.7 271.4,751.7 307.1,720 335.7,690 357.1,666.7 375,636.7 385.7,606.7 383.9,586.7 371.4,576.7 350,565 337.5,567.3 339.3,583.3 348.2,613.3 358.9,640 367.9,663.3 378.6,680 400,690 425,701.7 430.4,715 423.2,728.3 407.1,746.7 385.7,765 364.3,781.7 344.6,796"/>
<polyline points="342.9,803.3 371.4,804 400,801.7 417.1,795 422.1,780 417.9,763.3 408.9,746.7 398.2,726.7 385.7,703.3 376.8,680 378.6,660 392.9,636.7 410.7,611.7 420.7,606 425.7,613.3 427.1,636.7 428.6,668.3"/>
</g>
<text x="107" y="850" textLength="216" lengthAdjust="spacingAndGlyphs">Chemical gradient</text>

<rect x="563.2" y="546.7" width="400" height="352.6" fill="#bcb078"/>
<path clip-path="url(#fclip)" fill="#fff" d="M697.2,625a59,66.7 0 1,0 -118,0a59,66.7 0 1,0 118,0M691.6,576.7a19.6,23 0 1,0 -39.2,0a19.6,23 0 1,0 39.2,0M731,586a19.6,30 0 1,0 -39.2,0a19.6,30 0 1,0 39.2,0M774,586.7a25,28 0 1,0 -50,0a25,28 0 1,0 50,0M807.9,568.3a25,28 0 1,0 -50,0a25,28 0 1,0 50,0M678.6,706a25,22 0 1,0 -50,0a25,22 0 1,0 50,0M664.3,736.7a20.7,21.7 0 1,0 -41.4,0a20.7,21.7 0 1,0 41.4,0M736.4,766.7a44.6,41.7 0 1,0 -89.2,0a44.6,41.7 0 1,0 89.2,0M629.3,811.7a37.5,40 0 1,0 -75,0a37.5,40 0 1,0 75,0M677.4,796.7a32,33 0 1,0 -64,0a32,33 0 1,0 64,0M743.5,846.7a37.5,40 0 1,0 -75,0a37.5,40 0 1,0 75,0M784.7,841.7a26.8,33 0 1,0 -53.6,0a26.8,33 0 1,0 53.6,0M832.9,810a37.5,41.7 0 1,0 -75,0a37.5,41.7 0 1,0 75,0M804.3,713.3a37.5,41.7 0 1,0 -75,0a37.5,41.7 0 1,0 75,0M829,678.3a23,26.7 0 1,0 -46,0a23,26.7 0 1,0 46,0M877,671.7a30,36.7 0 1,0 -60,0a30,36.7 0 1,0 60,0M935.4,583.3a39,36.7 0 1,0 -78,0a39,36.7 0 1,0 78,0M913,636.7a23,25 0 1,0 -46,0a23,25 0 1,0 46,0M922.2,691.7a26.8,30 0 1,0 -53.6,0a26.8,30 0 1,0 53.6,0M972.2,691.7a26.8,31.7 0 1,0 -53.6,0a26.8,31.7 0 1,0 53.6,0M912.1,745a25.7,30 0 1,0 -51.4,0a25.7,30 0 1,0 51.4,0M873.3,771.7a27.9,31.7 0 1,0 -55.8,0a27.9,31.7 0 1,0 55.8,0M923.9,835a37.5,41.7 0 1,0 -75,0a37.5,41.7 0 1,0 75,0M965,823.3a25,31.7 0 1,0 -50,0a25,31.7 0 1,0 50,0M924,885a28.6,23 0 1,0 -57.2,0a28.6,23 0 1,0 57.2,0"/>
<path fill="#e2b92c" d="M609.4,580.7a4,6 0 1,0 -8,0a4,6 0 1,0 8,0M631.7,623.3a6,4.5 0 1,0 -12,0a6,4.5 0 1,0 12,0M666.4,665a6,6 0 1,0 -12,0a6,6 0 1,0 12,0M750.9,563.3a4.5,4.5 0 1,0 -9,0a4.5,4.5 0 1,0 9,0M754.1,598a4.5,4.5 0 1,0 -9,0a4.5,4.5 0 1,0 9,0M882,563.3a4.5,4.5 0 1,0 -9,0a4.5,4.5 0 1,0 9,0M831.7,652.7a6,6 0 1,0 -12,0a6,6 0 1,0 12,0M747.8,688.3a6,4.5 0 1,0 -12,0a6,4.5 0 1,0 12,0M928.9,685.7a6,4.5 0 1,0 -12,0a6,4.5 0 1,0 12,0M906.7,735.7a6,4.5 0 1,0 -12,0a6,4.5 0 1,0 12,0M866.4,784a6,6 0 1,0 -12,0a6,6 0 1,0 12,0M816.4,801a6,4.5 0 1,0 -12,0a6,4.5 0 1,0 12,0M816.4,835.7a6,4.5 0 1,0 -12,0a6,4.5 0 1,0 12,0M956.7,809a6,6 0 1,0 -12,0a6,6 0 1,0 12,0M956.7,843.3a6,6 0 1,0 -12,0a6,6 0 1,0 12,0M906.7,859a6,5.5 0 1,0 -12,0a6,5.5 0 1,0 12,0M684.9,845a4.5,4.5 0 1,0 -9,0a4.5,4.5 0 1,0 9,0M685.3,781a6,6 0 1,0 -12,0a6,6 0 1,0 12,0M581.7,781a6,6 0 1,0 -12,0a6,6 0 1,0 12,0"/>
<polygon points="494.6,846.7 538.3,827.2 540.8,829 540.3,832.8" fill="#111"/>
<polyline points="551.8,825 725.7,754 643.6,735 667.9,702.7 631,698.3 679.3,670 665,558.3 790,588.3 789,548.3" fill="none" stroke="#111" stroke-width="2.2" stroke-dasharray="9 6" stroke-linejoin="round"/>

<g>
<use href="#e" transform="translate(1178 587)rotate(-25)"/><use href="#e" transform="translate(1222 582)rotate(-20)"/><use href="#e" transform="translate(1256 582)rotate(-5)"/><use href="#e" transform="translate(1139 613)rotate(-55)"/><use href="#e" transform="translate(1114 627)rotate(-30)"/><use href="#e" transform="translate(1166 620)rotate(-30)"/>
<use href="#e" transform="translate(1199 628)rotate(-25)"/><use href="#e" transform="translate(1224 622)rotate(-55)"/><use href="#e" transform="translate(1276 622)rotate(-15)"/><use href="#e" transform="translate(1072 639)rotate(-55)"/><use href="#e" transform="translate(1253 638)rotate(-25)"/><use href="#e" transform="translate(1167 644)rotate(-55)"/>
<use href="#e" transform="translate(1114 655)rotate(-55)"/><use href="#e" transform="translate(1139 657)rotate(-30)"/><use href="#e" transform="translate(1162 668)rotate(-30)"/><use href="#e" transform="translate(1199 670)rotate(-45)"/><use href="#e" transform="translate(1220 657)rotate(-55)"/><use href="#e" transform="translate(1253 675)rotate(-20)"/>
<use href="#e" transform="translate(1286 669)rotate(-20)"/><use href="#e" transform="translate(1120 685)rotate(-30)"/><use href="#e" transform="translate(1147 697)rotate(-55)"/><use href="#e" transform="translate(1175 693)rotate(-30)"/><use href="#e" transform="translate(1196 697)rotate(-25)"/><use href="#e" transform="translate(1236 697)rotate(-25)"/>
<use href="#e" transform="translate(1169 720)rotate(-25)"/><use href="#e" transform="translate(1197 727)rotate(-55)"/><use href="#e" transform="translate(1217 720)rotate(-25)"/><use href="#e" transform="translate(1265 717)rotate(-25)"/><use href="#e" transform="translate(1294 707)rotate(-20)"/><use href="#e" transform="translate(1324 715)rotate(-20)"/>
<use href="#e" transform="translate(1240 738)rotate(-50)"/><use href="#e" transform="translate(1265 743)rotate(-25)"/><use href="#e" transform="translate(1294 732)rotate(-15)"/><use href="#e" transform="translate(1190 750)rotate(-55)"/><use href="#e" transform="translate(1217 753)rotate(-25)"/><use href="#e" transform="translate(1246 773)rotate(-20)"/>
<use href="#e" transform="translate(1258 764)rotate(-55)"/><use href="#e" transform="translate(1286 755)rotate(-35)"/><use href="#e" transform="translate(1325 757)rotate(-60)"/><use href="#e" transform="translate(1347 745)rotate(-55)"/><use href="#e" transform="translate(1274 783)rotate(-55)"/><use href="#e" transform="translate(1303 782)rotate(-30)"/>
<use href="#e" transform="translate(1324 783)rotate(-45)"/><use href="#e" transform="translate(1362 782)rotate(-15)"/><use href="#e" transform="translate(1299 808)rotate(-20)"/><use href="#e" transform="translate(1322 813)rotate(-15)"/><use href="#e" transform="translate(1363 815)rotate(-55)"/><use href="#e" transform="translate(1324 837)rotate(-20)"/>
<use href="#e" transform="translate(1351 840)rotate(-25)"/><use href="#e" transform="translate(1380 847)rotate(-55)"/><use href="#e" transform="translate(1330 860)rotate(-25)"/><use href="#e" transform="translate(1358 873)rotate(-20)"/>
</g>
<path d="M1143.9,611.7 L1333.2,806.7" stroke="#e9877b" stroke-width="3.2" fill="none" marker-end="url(#ahp)"/>

<g>
<use href="#e" transform="translate(1461 602)rotate(5)"/><use href="#e" transform="translate(1484 606)rotate(15)"/><use href="#e" transform="translate(1506 593)rotate(20)"/><use href="#e" transform="translate(1531 597)rotate(20)"/><use href="#e" transform="translate(1555 608)rotate(30)"/><use href="#e" transform="translate(1587 611)rotate(80)"/>
<use href="#e" transform="translate(1450 627)rotate(-30)"/><use href="#e" transform="translate(1483 628)rotate(0)"/><use href="#e" transform="translate(1512 627)rotate(20)"/><use href="#e" transform="translate(1533 633)rotate(25)"/><use href="#e" transform="translate(1567 633)rotate(60)"/><use href="#e" transform="translate(1603 643)rotate(80)"/>
<use href="#e" transform="translate(1431 643)rotate(-25)"/><use href="#e" transform="translate(1474 653)rotate(-25)"/><use href="#e" transform="translate(1503 667)rotate(-20)"/><use href="#e" transform="translate(1528 673)rotate(20)"/><use href="#e" transform="translate(1565 653)rotate(65)"/><use href="#e" transform="translate(1605 668)rotate(60)"/>
<use href="#e" transform="translate(1428 675)rotate(-20)"/><use href="#e" transform="translate(1451 668)rotate(-60)"/><use href="#e" transform="translate(1481 683)rotate(-25)"/><use href="#e" transform="translate(1447 703)rotate(-55)"/><use href="#e" transform="translate(1426 717)rotate(-60)"/><use href="#e" transform="translate(1480 720)rotate(-10)"/>
<use href="#e" transform="translate(1512 713)rotate(-30)"/><use href="#e" transform="translate(1538 727)rotate(5)"/><use href="#e" transform="translate(1424 740)rotate(-25)"/><use href="#e" transform="translate(1464 743)rotate(-25)"/><use href="#e" transform="translate(1493 760)rotate(-20)"/><use href="#e" transform="translate(1519 753)rotate(-25)"/>
<use href="#e" transform="translate(1552 757)rotate(-25)"/><use href="#e" transform="translate(1574 760)rotate(-25)"/><use href="#e" transform="translate(1424 772)rotate(-60)"/><use href="#e" transform="translate(1445 767)rotate(-25)"/><use href="#e" transform="translate(1467 783)rotate(-55)"/><use href="#e" transform="translate(1492 792)rotate(-30)"/>
<use href="#e" transform="translate(1521 775)rotate(-25)"/><use href="#e" transform="translate(1551 802)rotate(-60)"/><use href="#e" transform="translate(1572 788)rotate(-50)"/><use href="#e" transform="translate(1444 797)rotate(-30)"/><use href="#e" transform="translate(1483 808)rotate(-55)"/><use href="#e" transform="translate(1506 805)rotate(-30)"/>
<use href="#e" transform="translate(1477 817)rotate(-30)"/><use href="#e" transform="translate(1499 828)rotate(-55)"/><use href="#e" transform="translate(1521 827)rotate(-30)"/><use href="#e" transform="translate(1547 827)rotate(-60)"/><use href="#e" transform="translate(1587 825)rotate(-85)"/><use href="#e" transform="translate(1612 832)rotate(-70)"/>
<use href="#e" transform="translate(1528 853)rotate(-30)"/><use href="#e" transform="translate(1547 855)rotate(-25)"/><use href="#e" transform="translate(1589 858)rotate(-85)"/><use href="#e" transform="translate(1547 880)rotate(-55)"/><use href="#e" transform="translate(1576 882)rotate(-75)"/><use href="#e" transform="translate(1605 888)rotate(-80)"/>
<use href="#e" transform="translate(1621 622)rotate(-30)"/><use href="#e" transform="translate(1645 627)rotate(-65)"/><use href="#e" transform="translate(1680 620)rotate(-80)"/><use href="#e" transform="translate(1677 645)rotate(-70)"/><use href="#e" transform="translate(1631 657)rotate(-30)"/><use href="#e" transform="translate(1658 662)rotate(-5)"/>
<use href="#e" transform="translate(1701 667)rotate(-40)"/><use href="#e" transform="translate(1640 688)rotate(-65)"/><use href="#e" transform="translate(1668 693)rotate(-10)"/><use href="#e" transform="translate(1708 695)rotate(-45)"/><use href="#e" transform="translate(1691 708)rotate(-65)"/><use href="#e" transform="translate(1686 722)rotate(-60)"/>
<use href="#e" transform="translate(1734 725)rotate(0)"/><use href="#e" transform="translate(1668 740)rotate(-30)"/><use href="#e" transform="translate(1705 750)rotate(-25)"/><use href="#e" transform="translate(1675 762)rotate(-30)"/><use href="#e" transform="translate(1660 792)rotate(0)"/><use href="#e" transform="translate(1700 790)rotate(10)"/>
<use href="#e" transform="translate(1744 782)rotate(-10)"/><use href="#e" transform="translate(1680 805)rotate(50)"/><use href="#e" transform="translate(1719 818)rotate(5)"/><use href="#e" transform="translate(1616 810)rotate(-85)"/><use href="#e" transform="translate(1652 827)rotate(60)"/><use href="#e" transform="translate(1686 833)rotate(20)"/>
<use href="#e" transform="translate(1614 830)rotate(60)"/><use href="#e" transform="translate(1630 848)rotate(30)"/><use href="#e" transform="translate(1661 850)rotate(40)"/><use href="#e" transform="translate(1638 868)rotate(50)"/><use href="#e" transform="translate(1607 888)rotate(-80)"/>
</g>
<path d="M1603.4,829.4 A94,94 0 1 1 1662.4,773.1" stroke="#e9877b" stroke-width="3.5" fill="none" marker-end="url(#ahp)"/>

<rect x="1770.5" y="546" width="347" height="347.3" fill="#d5daee" stroke="#555" stroke-width="1.6"/>
<g fill="#363c99">
<use href="#blob" transform="translate(1831,603) scale(1,0.92)"/>
<use href="#blob" transform="translate(1910,682) rotate(40) scale(0.97,0.98)"/>
<use href="#blob" transform="translate(2048,653) rotate(100) scale(0.9,1.04)"/>
<use href="#blob" transform="translate(1878,835) rotate(160) scale(0.84,0.94)"/>
<use href="#blob" transform="translate(2006,817) rotate(220) scale(0.96,0.96)"/>
</g>
<g fill="#9aa1d3">
<ellipse cx="1827.6" cy="600" rx="26" ry="22" transform="rotate(-10 1827.6 600)"/>
<ellipse cx="1908" cy="683" rx="27" ry="22"/>
<ellipse cx="2050" cy="652" rx="27" ry="22"/>
<ellipse cx="1876.6" cy="837" rx="22" ry="27"/>
<ellipse cx="2004" cy="817" rx="24" ry="27" transform="rotate(-25 2004 817)"/>
</g>
<path d="M1867.9,743.3 L1890.6,740 L1915.1,738.3 Q1925,734 1932.6,726.7 Q1940,720 1950.1,717.3 L1985,710.7 L2006.2,712.3 Q2008,720 2006.2,726.7 Q2004,737 1999.2,746.7 Q1994,755 1988.5,760 Q1980,764 1971,766.7 L1950.1,773.3 L1929.1,777.3 L1908.1,781.7 L1887.1,783.3 Q1880,782 1876.6,778.3 Q1870,772 1867.9,766.7 Q1865,755 1867.9,743.3 Z" fill="#979797" stroke="#b03a2a" stroke-width="1"/>
<ellipse cx="2016.7" cy="712.3" rx="13" ry="8.5" fill="#c03b1c" stroke="#8a2a1a" stroke-width="1"/>
<path fill="#111" d="M1814.3,719.3a5.3,5.3 0 1,0 -10.6,0a5.3,5.3 0 1,0 10.6,0M1823.1,723.3a5.3,5.3 0 1,0 -10.6,0a5.3,5.3 0 1,0 10.6,0M1818.9,804a5.3,5.3 0 1,0 -10.6,0a5.3,5.3 0 1,0 10.6,0M1827.3,797.3a5.3,5.3 0 1,0 -10.6,0a5.3,5.3 0 1,0 10.6,0"/>
</svg>
</body></html>
